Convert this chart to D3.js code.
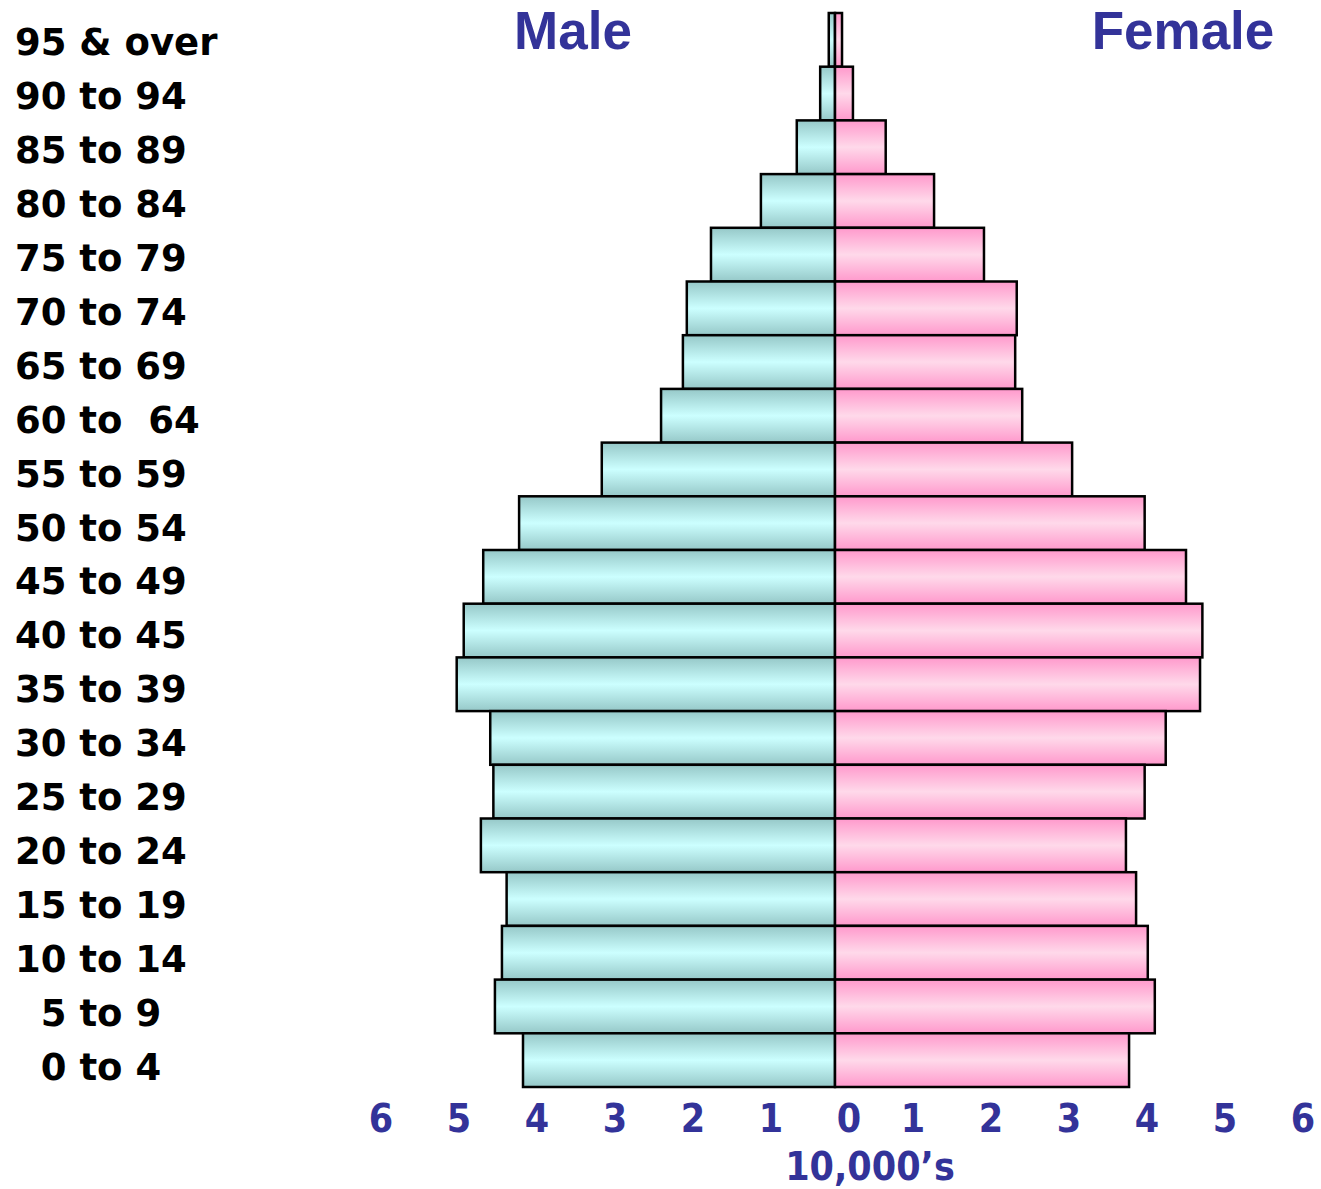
<!DOCTYPE html>
<html>
<head>
<meta charset="utf-8">
<script src="https://cdn.jsdelivr.net/npm/d3@7"></script>
<style>
  body { margin: 0; background: #fff; }
  svg { display: block; }
  .age { font-family: "DejaVu Sans", sans-serif; font-weight: bold; font-size: 37px; fill: #000; white-space: pre; }
  .tick { font-family: "DejaVu Sans Condensed", "DejaVu Sans", sans-serif; font-stretch: condensed; font-weight: bold; font-size: 39px; fill: #333399; }
  .title { font-family: "Liberation Sans", Arial, sans-serif; font-weight: bold; font-size: 53px; fill: #333399; }
</style>
</head>
<body>
<div id="chart"></div>
<script>
// age groups, oldest first (top to bottom)
var ageGroups = ["95 & over", "90 to 94", "85 to 89", "80 to 84", "75 to 79", "70 to 74",
  "65 to 69", "60 to  64", "55 to 59", "50 to 54", "45 to 49", "40 to 45", "35 to 39",
  "30 to 34", "25 to 29", "20 to 24", "15 to 19", "10 to 14", "  5 to 9", "  0 to 4"];

// population in 10,000's
var maleValues = [0.08, 0.19, 0.49, 0.95, 1.59, 1.90, 1.95, 2.23, 2.99, 4.05,
  4.51, 4.76, 4.85, 4.42, 4.38, 4.54, 4.21, 4.27, 4.36, 4.00];
var femaleValues = [0.09, 0.23, 0.65, 1.27, 1.91, 2.33, 2.31, 2.40, 3.04, 3.97,
  4.50, 4.71, 4.68, 4.24, 3.97, 3.73, 3.86, 4.01, 4.10, 3.77];

var maleTicks = [6, 5, 4, 3, 2, 1, 0];
var femaleTicks = [1, 2, 3, 4, 5, 6];

var width = 1321, height = 1189;
var center = 835;

var svg = d3.select("#chart").append("svg")
  .attr("width", width)
  .attr("height", height);

var defs = svg.append("defs");
function addGradient(id, edge, mid) {
  var g = defs.append("linearGradient")
    .attr("id", id)
    .attr("x1", 0).attr("y1", 0).attr("x2", 0).attr("y2", 1);
  g.append("stop").attr("offset", "0%").attr("stop-color", edge);
  g.append("stop").attr("offset", "50%").attr("stop-color", mid);
  g.append("stop").attr("offset", "100%").attr("stop-color", edge);
}
addGradient("maleGrad", "#96c8c8", "#ccffff");
addGradient("femaleGrad", "#ff99cc", "#ffd9ea");

var x = d3.scaleLinear().domain([0, 6]).range([0, 468]);
var y = d3.scaleBand().domain(ageGroups).range([13, 1087]).padding(0);
// the labels are spaced a touch wider than the bars
var yLabel = d3.scalePoint().domain(ageGroups).range([42, 1067]);

// male bars
svg.append("g").selectAll("rect")
  .data(maleValues)
  .enter().append("rect")
  .attr("x", function(d) { return center - x(d); })
  .attr("y", function(d, i) { return y(ageGroups[i]); })
  .attr("width", function(d) { return x(d); })
  .attr("height", y.bandwidth())
  .attr("fill", "url(#maleGrad)")
  .attr("stroke", "#000")
  .attr("stroke-width", 2.5);

// female bars
svg.append("g").selectAll("rect")
  .data(femaleValues)
  .enter().append("rect")
  .attr("x", center)
  .attr("y", function(d, i) { return y(ageGroups[i]); })
  .attr("width", function(d) { return x(d); })
  .attr("height", y.bandwidth())
  .attr("fill", "url(#femaleGrad)")
  .attr("stroke", "#000")
  .attr("stroke-width", 2.5);

// age labels
svg.append("g").selectAll("text")
  .data(ageGroups)
  .enter().append("text")
  .attr("class", "age")
  .attr("x", 15)
  .attr("y", function(d) { return yLabel(d) + 13; })
  .text(function(d) { return d; });

// tick labels (male side sits a little right of the bar scale)
svg.append("g").selectAll("text")
  .data(maleTicks)
  .enter().append("text")
  .attr("class", "tick")
  .attr("text-anchor", "middle")
  .attr("x", function(d) { return center + 14 - x(d); })
  .attr("y", 1132)
  .text(function(d) { return d; });

svg.append("g").selectAll("text")
  .data(femaleTicks)
  .enter().append("text")
  .attr("class", "tick")
  .attr("text-anchor", "middle")
  .attr("x", function(d) { return center + x(d); })
  .attr("y", 1132)
  .text(function(d) { return d; });

svg.append("text")
  .attr("class", "tick")
  .attr("text-anchor", "middle")
  .attr("x", 870)
  .attr("y", 1180)
  .text("10,000\u2019s");

svg.append("text")
  .attr("class", "title")
  .attr("text-anchor", "middle")
  .attr("x", 573)
  .attr("y", 49)
  .text("Male");

svg.append("text")
  .attr("class", "title")
  .attr("text-anchor", "middle")
  .attr("x", 1183)
  .attr("y", 49)
  .text("Female");
</script>
</body>
</html>
